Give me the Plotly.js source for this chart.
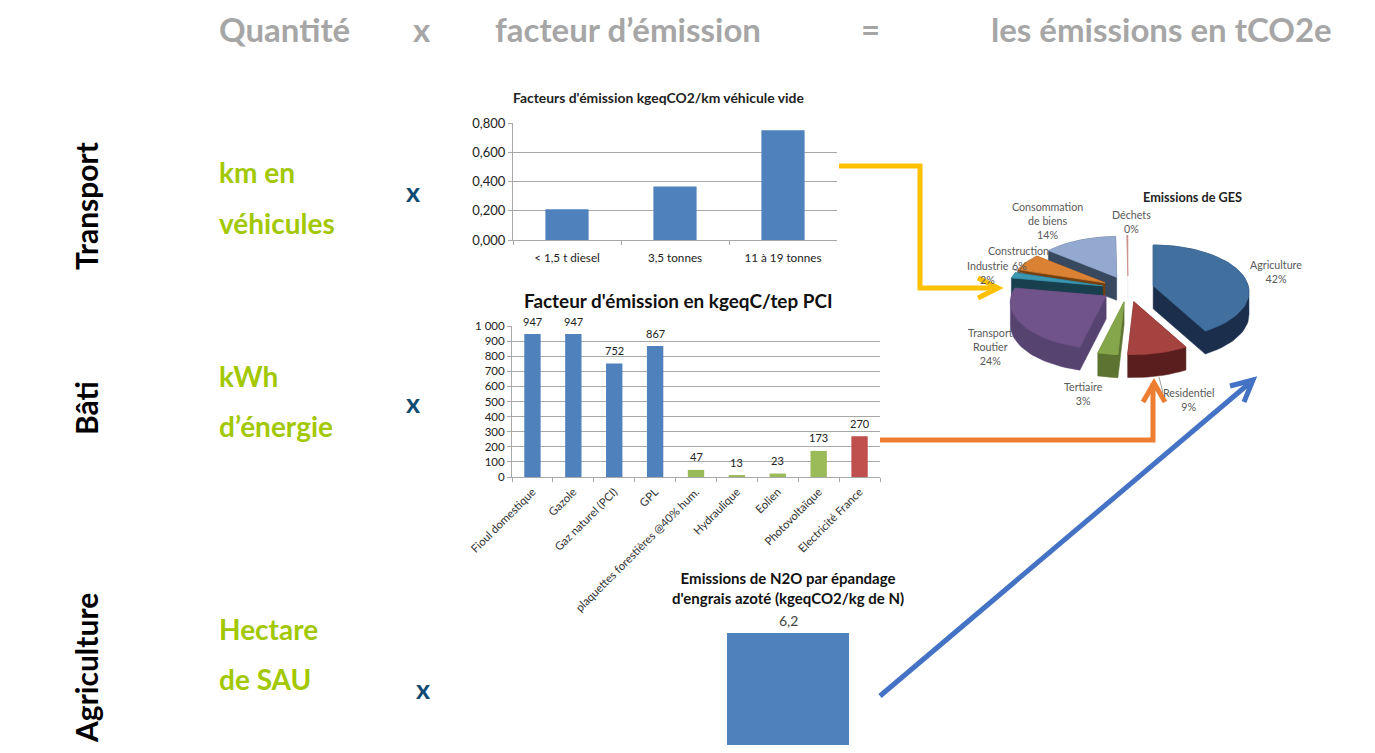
<!DOCTYPE html>
<html><head><meta charset="utf-8">
<script src="https://cdn.plot.ly/plotly-3.0.1.min.js"></script>
<style>html,body{margin:0;padding:0;background:#fff;overflow:hidden}#chart{width:1375px;height:753px}</style>
</head><body><div id="chart"></div>
<script>
// ---- data ----
const vehicleCategories = ['< 1,5 t diesel', '3,5 tonnes', '11 à 19 tonnes'];
const vehicleFactors = [0.21, 0.365, 0.75];
const energyCategories = ['Fioul domestique', 'Gazole', 'Gaz naturel (PCI)', 'GPL', 'plaquettes forestières @40% hum.', 'Hydraulique', 'Eolien', 'Photovoltaïque', 'Electricité France'];
const energyFactors = [947, 947, 752, 867, 47, 13, 23, 173, 270];
const n2oCategories = ['Emissions de N2O'];
const n2oFactors = [6.2];
const gesCategories = ['Agriculture', 'Residentiel', 'Tertiaire', 'Transport Routier', 'Industrie', 'Construction', 'Consommation de biens', 'Déchets'];
const gesShares = [42, 9, 3, 24, 2, 6, 14, 0.2];

// ---- styles ----
const FONT = 'Lato, Carlito, "Open Sans", sans-serif';
const W = 1375, H = 753;
const BLUE = '#4f81bd', GREEN = '#9bbb59', RED = '#c0504d';
const energyColors = [BLUE, BLUE, BLUE, BLUE, GREEN, GREEN, GREEN, GREEN, RED];
const gesTop = ['#41709f', '#a54341', '#86a64b', '#6f5389', '#3a97b0', '#db8134', '#94a9d0', '#c98a88'];
const gesWall = ['#1b2e4c', '#5a1e1f', '#5c7331', '#574370', '#173f4e', '#74400f', '#38495f', '#eeeeee'];
const drawOrder = [6, 7, 5, 4, 3, 0, 2, 1];

const px = x => x / W;
const py = y => 1 - y / H;
const ann = (text, x, y, o = {}) => ({
  text: o.bold === false ? text : '<b>' + text + '</b>',
  x: px(x), y: py(y), xref: 'paper', yref: 'paper', showarrow: false,
  xanchor: o.anchor || 'center', yanchor: 'middle', textangle: o.angle || 0,
  font: {family: FONT, size: o.size || 12, color: o.color || '#000'}
});

// ---- exploded perspective pie, computed from the shares ----
const pie = {cx: 1128, cy: 289, rx: 95, ry: 46, k: 0.13, ex: 26, ey: 13, depth: 23};
function project(th) {
  const X = Math.sin(th), Y = -Math.cos(th), s = 1 / (1 - pie.k * Y);
  return [pie.rx * X * s, pie.ry * Y * s];
}
function hull(points) {
  const p = points.slice().sort((a, b) => a[0] - b[0] || a[1] - b[1]);
  const cross = (o, a, b) => (a[0] - o[0]) * (b[1] - o[1]) - (a[1] - o[1]) * (b[0] - o[0]);
  const half = list => {
    const out = [];
    list.forEach(q => {
      while (out.length > 1 && cross(out[out.length - 2], out[out.length - 1], q) <= 0) out.pop();
      out.push(q);
    });
    out.pop();
    return out;
  };
  return half(p).concat(half(p.slice().reverse()));
}
const total = gesShares.reduce((a, b) => a + b, 0);
const slicePoints = [];
let acc = 0;
gesShares.forEach((v, i) => {
  const a0 = acc / total * 2 * Math.PI;
  acc += v;
  const a1 = acc / total * 2 * Math.PI, mid = (a0 + a1) / 2;
  const ax = pie.cx + pie.ex * Math.sin(mid), ay = pie.cy - pie.ey * Math.cos(mid);
  const pts = [[ax, ay]];
  const n = Math.max(2, Math.ceil((a1 - a0) / 0.05));
  for (let j = 0; j <= n; j++) {
    const p = project(a0 + (a1 - a0) * j / n);
    pts.push([ax + p[0], ay + p[1]]);
  }
  slicePoints[i] = pts;
});
const pieTraces = [];
drawOrder.forEach(i => {
  const pts = slicePoints[i];
  const body = hull(pts.concat(pts.map(p => [p[0], p[1] + pie.depth])));
  const base = {type: 'scatter', mode: 'lines', xaxis: 'x4', yaxis: 'y4', fill: 'toself', hoverinfo: 'skip', showlegend: false};
  pieTraces.push(Object.assign({}, base, {name: gesCategories[i] + ' (côté)',
    x: body.map(p => p[0]).concat(body[0][0]), y: body.map(p => p[1]).concat(body[0][1]),
    fillcolor: gesWall[i], line: {color: gesWall[i], width: 0.5}}));
  pieTraces.push(Object.assign({}, base, {name: gesCategories[i],
    x: pts.map(p => p[0]).concat(pts[0][0]), y: pts.map(p => p[1]).concat(pts[0][1]),
    fillcolor: gesTop[i], line: {color: gesTop[i], width: 0.7}}));
});

// ---- bars ----
const traces = [
  {type: 'bar', x: vehicleCategories, y: vehicleFactors, xaxis: 'x', yaxis: 'y', marker: {color: BLUE}, hoverinfo: 'skip'},
  {type: 'bar', x: energyCategories, y: energyFactors, xaxis: 'x2', yaxis: 'y2', marker: {color: energyColors}, hoverinfo: 'skip'},
  {type: 'bar', x: n2oCategories, y: n2oFactors, xaxis: 'x3', yaxis: 'y3', marker: {color: BLUE}, width: 1, hoverinfo: 'skip'}
].concat(pieTraces);

const GRID = '#a8a8a8';
const dom = (a, b, f) => [f(a), f(b)];
const ydom = (top, bottom) => [py(bottom), py(top)];
const tick = (size, color) => ({family: FONT, size, color});
const HEAD = {size: 33, color: '#a6a6a6'};
const SIDE = {size: 30, angle: -90};
const QTY = {size: 28, color: '#a2c803', anchor: 'left'};
const MULT = {size: 27, color: '#0f4a73'};
const PIE = {bold: false, size: 10.7, color: '#595959'};
const left = o => Object.assign({}, o, {anchor: 'left'});

const layout = {
  width: W, height: H, margin: {l: 0, r: 0, t: 0, b: 0},
  paper_bgcolor: '#fff', plot_bgcolor: 'rgba(0,0,0,0)',
  showlegend: false, hovermode: false, separators: ', ', bargap: 0.6,
  xaxis: {domain: dom(513, 837, px), type: 'category', anchor: 'y', showline: true, linecolor: GRID, linewidth: 1,
    ticks: 'outside', tickson: 'boundaries', ticklen: 4, tickcolor: GRID, tickfont: tick(11.7, '#222'), ticklabelstandoff: 7, showgrid: false, fixedrange: true},
  yaxis: {domain: ydom(123, 240), anchor: 'x', range: [0, 0.8], dtick: 0.2, tickformat: '.3f', gridcolor: GRID, gridwidth: 1,
    showline: true, linecolor: GRID, ticks: 'outside', ticklen: 4, tickcolor: GRID, tickfont: tick(13, '#222'), zeroline: false, fixedrange: true},
  xaxis2: {domain: dom(512, 880, px), type: 'category', anchor: 'y2', showline: true, linecolor: GRID,
    ticks: 'outside', tickson: 'boundaries', ticklen: 4, tickcolor: GRID, tickangle: -45, tickfont: tick(11.3, '#333'), ticklabelstandoff: 3, showgrid: false, fixedrange: true},
  yaxis2: {domain: ydom(326, 477), anchor: 'x2', range: [0, 1000], dtick: 100, tickformat: ',d', gridcolor: GRID, gridwidth: 1,
    showline: true, linecolor: GRID, ticks: 'outside', ticklen: 4, tickcolor: GRID, tickfont: tick(11.5, '#222'), zeroline: false, fixedrange: true},
  xaxis3: {domain: dom(727, 849, px), type: 'category', anchor: 'y3', visible: false, fixedrange: true},
  yaxis3: {domain: ydom(633, 745), anchor: 'x3', range: [0, 6.2], visible: false, fixedrange: true},
  xaxis4: {domain: [0, 1], anchor: 'y4', range: [0, W], visible: false, fixedrange: true},
  yaxis4: {domain: [0, 1], anchor: 'x4', range: [H, 0], visible: false, fixedrange: true},
  annotations: [
    ann('Quantité', 217, 29, left(HEAD)),
    ann('x', 422, 29, HEAD),
    ann('facteur d’émission', 493, 29, left(HEAD)),
    ann('=', 870, 29, HEAD),
    ann('les émissions en tCO2e', 989, 29, left(HEAD)),
    ann('Transport', 86, 206, SIDE),
    ann('Bâti', 86, 408, SIDE),
    ann('Agriculture', 86, 668, SIDE),
    ann('km en', 217, 172, QTY),
    ann('véhicules', 217, 223, QTY),
    ann('kWh', 217, 376, QTY),
    ann('d’énergie', 217, 426, QTY),
    ann('Hectare', 217, 629, QTY),
    ann('de SAU', 217, 679, QTY),
    ann('x', 413, 191, MULT),
    ann('x', 413, 402, MULT),
    ann('x', 423, 688, MULT),
    ann('Facteurs d\'émission kgeqCO2/km véhicule vide', 658, 97, {size: 13.9, color: '#222'}),
    ann('Facteur d\'émission en kgeqC/tep PCI', 678, 300, {size: 18.9, color: '#111'}),
    ann('Emissions de N2O par épandage<br>d\'engrais azoté (kgeqCO2/kg de N)', 788, 588, {size: 15, color: '#111'}),
    ann('Emissions de GES', 1192, 197, {size: 12.7, color: '#222'}),
    ann('Agriculture<br>42%', 1276, 271, PIE),
    ann('Consommation<br>de biens<br>14%', 1047, 221, PIE),
    ann('Déchets<br>0%', 1131, 222, PIE),
    ann('Construction', 1018, 251, PIE),
    ann('6%', 1019, 265, PIE),
    ann('Industrie', 988, 265, PIE),
    ann('2%', 987, 279, PIE),
    ann('Transport<br>Routier<br>24%', 990, 346, PIE),
    ann('Tertiaire<br>3%', 1083, 393, PIE),
    ann('Residentiel<br>9%', 1188, 399, PIE)
  ].concat(energyFactors.map((v, i) => ({
    text: String(v), x: energyCategories[i], y: v, xref: 'x2', yref: 'y2', showarrow: false,
    yanchor: 'middle', yshift: 13, font: {family: FONT, size: 11, color: '#222'}
  }))).concat(n2oFactors.map((v, i) => ({
    text: v.toFixed(1).replace('.', ','), x: n2oCategories[i], y: v, xref: 'x3', yref: 'y3', showarrow: false,
    yanchor: 'middle', yshift: 13, font: {family: FONT, size: 14, color: '#444'}
  }))),
  shapes: [
    ['M', 839, 166, 'L', 920, 166, 'L', 920, 288, 'L', 998, 288, '#ffc000'],
    ['M', 978, 278, 'L', 998, 288, 'L', 978, 298, '', '', '', '', '', '', '#ffc000'],
    ['M', 880, 440, 'L', 1153, 440, 'L', 1153, 383, '', '', '', '#ed7d31'],
    ['M', 1143, 402, 'L', 1154, 383, 'L', 1165, 402, '', '', '', '#ed7d31'],
    ['M', 880, 696, 'L', 1252, 381, '', '', '', '', '', '', '#4472c4'],
    ['M', 1230, 386, 'L', 1253, 380, 'L', 1244, 402, '', '', '', '#4472c4']
  ].map(s => {
    const color = s[s.length - 1];
    let path = '';
    for (let i = 0; i + 2 < s.length - 1; i += 3) if (s[i]) path += s[i] + ' ' + px(s[i + 1]) + ' ' + py(s[i + 2]) + ' ';
    return {type: 'path', xref: 'paper', yref: 'paper', path: path.trim(), layer: 'above',
      line: {color, width: 5}, fillcolor: 'rgba(0,0,0,0)'};
  }).concat([
    {type: 'line', xref: 'paper', yref: 'paper', x0: px(1159), y0: py(377), x1: px(1163), y1: py(393), line: {color: '#777', width: 0.7}},
    {type: 'line', xref: 'paper', yref: 'paper', x0: px(1012), y0: py(269), x1: px(1025), y1: py(274), line: {color: '#777', width: 0.7}}
  ])
};
Plotly.newPlot('chart', traces, layout, {staticPlot: true, displayModeBar: false});
</script></body></html>
